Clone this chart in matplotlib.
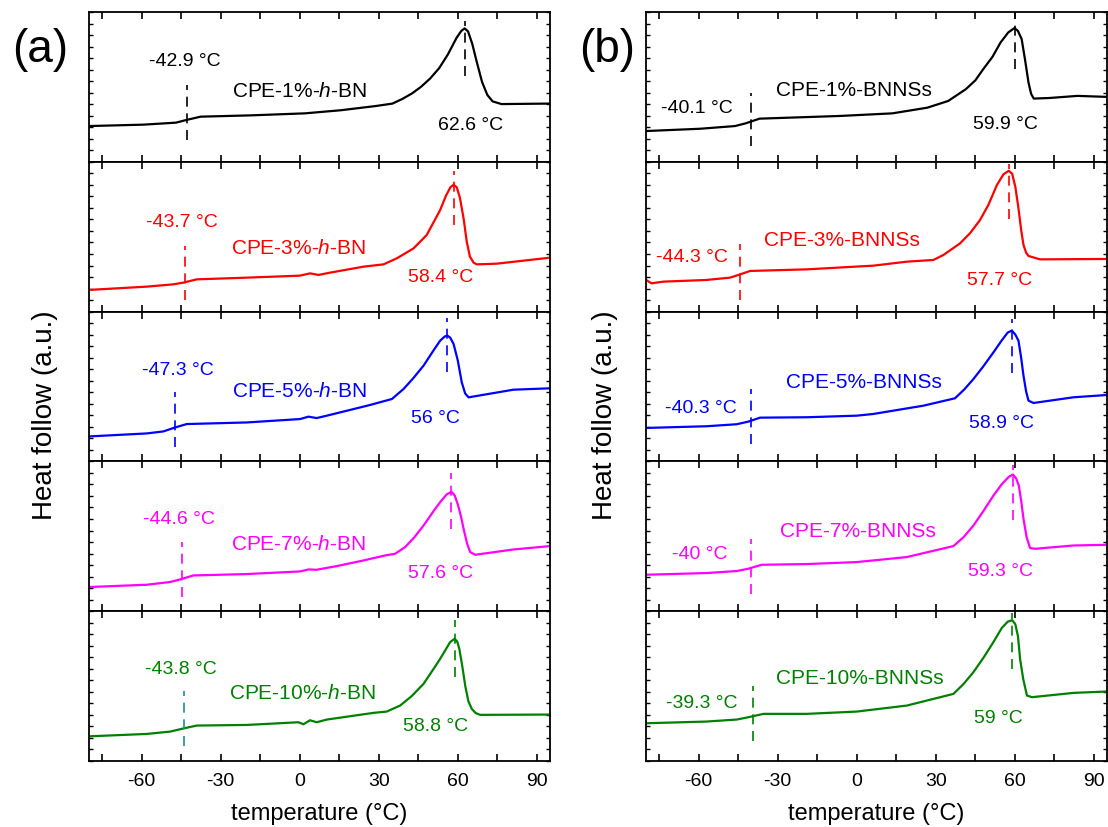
import matplotlib
matplotlib.use("Agg")
import matplotlib.pyplot as plt
from matplotlib.ticker import MultipleLocator

plt.rcParams["font.family"] = ["Liberation Sans", "DejaVu Sans"]
plt.rcParams["mathtext.fontset"] = "custom"
plt.rcParams["mathtext.rm"] = "Liberation Sans"
plt.rcParams["mathtext.it"] = "Liberation Sans:italic"
plt.rcParams["axes.unicode_minus"] = False

colors = ["#000000", "#ff0000", "#0000ff", "#ff00ff", "#008000"]

# ---- panel (a): h-BN ----
names_a = ["CPE-1%-$\\mathit{h}$-BN", "CPE-3%-$\\mathit{h}$-BN", "CPE-5%-$\\mathit{h}$-BN",
           "CPE-7%-$\\mathit{h}$-BN", "CPE-10%-$\\mathit{h}$-BN"]
tg_a = [-42.9, -43.7, -47.3, -44.6, -43.8]
tp_a = [62.6, 58.4, 56, 57.6, 58.8]

t_a1 = [-80, -59.3, -47, -43, -37.6, -18.5, 1.9, 15.5, 29, 35.2, 39, 42.7, 46, 49.5, 53, 56.3, 59.5, 61.3, 62.6,
        63.9, 65.5, 67.1, 69.2, 71.2, 73.2, 76.6, 95]
h_a1 = [35.8, 37.2, 39.2, 41.9, 45.2, 46.5, 48.5, 51.6, 55.9, 58.3, 63, 68.6, 75, 83.4, 94, 107.8, 124, 131, 133.6,
        130.5, 118, 101, 80, 67, 60.5, 57.8, 58.3]

t_a2 = [-80, -58.1, -48, -44.2, -39.1, -20.1, 0.1, 3.9, 7.1, 11.5, 24.2, 31.8, 36.8, 43.2, 48.2, 53.3,
        55.5, 57.2, 58.4, 59.6, 60.8, 62.2, 63.4, 64.6, 66, 67.2, 74.8, 95]
h_a2 = [21.7, 25, 27.3, 29, 32.3, 34, 36, 38.3, 36.7, 39, 45, 47.3, 53.3, 63.3, 76.7, 101.7,
        116, 124.5, 127, 124.5, 114, 93.3, 70, 55, 49, 47.3, 48, 54]

t_a3 = [-80, -58.1, -51.8, -47.3, -42.9, -20.1, 0.1, 3.3, 6.4, 10.3, 26.7, 35, 39.4, 43, 47, 51, 53.3,
        55, 56, 57.1, 58.4, 60, 61.5, 62.8, 64.1, 66, 81.1, 95]
h_a3 = [25, 28, 30, 34, 37.4, 39, 42.4, 44.8, 43.4, 45.8, 56.5, 62.5, 72.5, 83, 95.9, 112, 120.9,
        125, 126, 124, 117.6, 101, 79.2, 68, 64.1, 65, 71.8, 73.2]

t_a4 = [-80, -58.1, -49.3, -45.4, -40.4, -20.1, 0.1, 3.3, 6.4, 14.1, 24.2, 32.4, 36.2, 40, 43.5, 47, 51,
        53.3, 55.8, 57.6, 58.8, 60, 61.2, 62.2, 63.5, 64.7, 66.6, 81.1, 95]
h_a4 = [24.2, 26.5, 29.2, 31.8, 35.8, 37.2, 39.8, 41.8, 41.5, 45.2, 50.8, 55.8, 57.5, 64.2, 74, 85.8, 101,
        109.2, 117, 119.5, 116, 107, 95, 82.5, 68, 59.2, 56.5, 61.8, 65.2]

t_a5 = [-80, -58.1, -49.3, -43.8, -39.1, -20.1, -0.5, 1.4, 3.9, 6.4, 10.3, 28, 33, 38.1, 42.5, 47, 51,
        53.3, 57.1, 58.8, 59.8, 60.6, 61.7, 62.8, 64, 65.3, 66.8, 68.5, 95]
h_a5 = [24.7, 27.1, 29.4, 32.8, 35.5, 36.1, 38.8, 36.8, 40.8, 38.8, 41.5, 48.2, 49.5, 55.5, 65, 77.3, 93,
        102.3, 119.1, 122.4, 119.5, 112, 95, 75.6, 60, 52.2, 48, 46.2, 46.5]

# ---- panel (b): BNNSs ----
names_b = ["CPE-1%-BNNSs", "CPE-3%-BNNSs", "CPE-5%-BNNSs", "CPE-7%-BNNSs", "CPE-10%-BNNSs"]
tg_b = [-40.1, -44.3, -40.3, -40.0, -39.3]
tp_b = [59.9, 57.7, 58.9, 59.3, 59.0]

t_b1 = [-80, -59.4, -46.2, -42.2, -36.9, -6.4, 13.5, 26.8, 34.7, 41.4, 45, 48, 51.5, 54.6, 57.5, 59.9, 61.2,
        62.6, 63.9, 65.2, 66.2, 67.2, 73.2, 83.8, 95]
h_b1 = [30.8, 33.1, 35.8, 38.5, 43.2, 45.9, 48.5, 54.2, 60.9, 72.7, 81.5, 92.7, 105, 119.5, 129.5, 134, 131,
        122.9, 102, 79.4, 68, 63.3, 63.9, 66, 65]

t_b2 = [-80, -77.9, -73.4, -57, -48.1, -44.9, -40.5, -19, 6.3, 19, 29.1, 32.9, 39.2, 43, 46.8, 50, 53.2,
        55.7, 57.7, 59, 60.2, 61.4, 62.4, 63.3, 64.3, 65.2, 69.6, 95]
h_b2 = [31.7, 28.3, 30, 31.7, 34, 36.7, 40.7, 42.3, 46, 50, 51.7, 56.7, 68.3, 78.5, 91.7, 107, 126.7,
        137.5, 141, 138, 125, 103.3, 82, 66.7, 59, 55.7, 52.3, 52.7]

t_b3 = [-80, -57, -45.6, -41.2, -36.7, -19, 0, 6.3, 25.3, 37.3, 40.8, 44.3, 48, 51.9, 55, 57.3, 58.9, 60.2,
        61.4, 62.4, 63.3, 64.3, 65.2, 67.1, 82.3, 95]
h_b3 = [33.5, 35.2, 37.2, 39.8, 43.8, 44.2, 45.8, 47.5, 55.8, 63.2, 72, 82.5, 95, 109.2, 121, 129, 131, 127,
        120.8, 104, 85.8, 70, 60.8, 58.5, 64.2, 66.5]

t_b4 = [-80, -57, -45.6, -41.2, -36.1, -19, 0, 19, 36.7, 40.5, 44.3, 48, 51.9, 55, 57.7, 59.3, 60.5, 61.5,
        62.4, 63.3, 64.5, 65.8, 67.7, 82.3, 95]
h_b4 = [36.5, 38.2, 40.2, 42.5, 46.5, 47.2, 49.2, 54.2, 65.2, 74, 85.8, 100, 115.8, 127, 134.5, 136.8, 133, 126,
        111, 92.5, 74, 63.2, 62.5, 65.8, 66.5]

t_b5 = [-80, -57, -45.6, -41.2, -35.4, -19, 0, 19, 36.7, 40.5, 44.3, 48, 51.9, 55, 57.3, 59, 60.2, 61.2,
        62, 63.2, 64.6, 66.5, 82.3, 95]
h_b5 = [37.8, 39.5, 41.5, 43.8, 47.2, 47.2, 49.5, 55.5, 67.2, 77, 89, 103, 119.1, 133, 139.5, 141, 137, 125,
        102.3, 82, 65.6, 63.9, 68.2, 69.6]

curves_a = [(t_a1, h_a1), (t_a2, h_a2), (t_a3, h_a3), (t_a4, h_a4), (t_a5, h_a5)]
curves_b = [(t_b1, h_b1), (t_b2, h_b2), (t_b3, h_b3), (t_b4, h_b4), (t_b5, h_b5)]

# label positions (x, y) in each subplot: Tg label, name, Tp label
pos_a = [((-43.7, 101), (-0.2, 71), (65, 37.5)),
         ((-44.8, 90), (-0.5, 64), (53.3, 35)),
         ((-46.1, 92.5), (-0.1, 70.8), (51.4, 44)),
         ((-45.8, 93.2), (-0.5, 67.5), (53.5, 38.5)),
         ((-45.2, 92.3), (1.1, 68.9), (51.4, 35.4))]
pos_b = [((-60.8, 54.2), (-1.1, 72.7), (56.6, 38.5)),
         ((-62.7, 55), (-5.7, 71.7), (54.4, 31.7)),
         ((-59.2, 54.2), (2.8, 79.8), (55, 39.2)),
         ((-59.5, 57.5), (0.6, 80.8), (54.4, 40.8)),
         ((-58.9, 58.9), (1.3, 83.9), (53.8, 43.8))]
# dashed line extents (Tg low, Tg high, Tp low, Tp high)
dash_a = [(22, 77, 86, 141), (12, 66, 87, 141), (14, 69, 90, 144), (14, 69, 82, 138), (15, 70, 84, 141)]
dash_b = [(16, 69, 93, 150), (12, 68, 93, 148), (17, 72, 89, 143), (17, 72, 91, 146), (20, 75, 92, 148)]

fig = plt.figure(figsize=(11.08, 8.28), dpi=100)
W, H = 1108, 828
bot, top = 1 - 762 / H, 1 - 13 / H


def fmt_t(v):
    return ("%g" % v) + " \u00b0C"


def draw_panel(left, right, names, curves, tg, tp, pos, dash, tag):
    gs = fig.add_gridspec(5, 1, left=left, right=right, bottom=bot, top=top, hspace=0)
    axes = []
    for i in range(5):
        ax = fig.add_subplot(gs[i, 0])
        c = colors[i]
        t, h = curves[i]
        ax.plot(t, h, color=c, lw=1.6, solid_joinstyle="round")
        tgc = "#1a8f8f" if (tag == "(a)" and i == 4) else c
        ax.plot([tg[i], tg[i]], [dash[i][0], dash[i][1]], color=tgc, lw=1.2, ls=(0, (6, 4)))
        ax.plot([tp[i], tp[i]], [dash[i][2], dash[i][3]], color=c, lw=1.2, ls=(0, (6, 4)))
        (x1, y1), (x2, y2), (x3, y3) = pos[i]
        ax.text(x1, y1, fmt_t(tg[i]), color=c, fontsize=14, ha="center", va="center")
        ax.text(x2, y2, names[i], color=c, fontsize=15, ha="center", va="center")
        ax.text(x3, y3, fmt_t(tp[i]), color=c, fontsize=14, ha="center", va="center")
        ax.set_xlim(-80, 95)
        ax.set_ylim(0, 150)
        ax.xaxis.set_major_locator(MultipleLocator(30))
        ax.xaxis.set_minor_locator(MultipleLocator(15))
        ax.yaxis.set_major_locator(MultipleLocator(150 / 13))
        ax.tick_params(axis="x", which="both", direction="in", top=True, bottom=True,
                       length=5, width=1.2, labelsize=14, pad=8)
        ax.tick_params(axis="y", which="both", direction="in", left=True, right=True,
                       length=3, width=1.0, labelleft=False)
        for sp in ax.spines.values():
            sp.set_linewidth(1.3)
        if i < 4:
            ax.tick_params(axis="x", labelbottom=False)
        axes.append(ax)
    axes[-1].set_xlabel("temperature (\u00b0C)", fontsize=17, labelpad=9)
    return axes


ax_a = draw_panel(89 / W, 550 / W, names_a, curves_a, tg_a, tp_a, pos_a, dash_a, "(a)")
ax_b = draw_panel(646 / W, 1107 / W, names_b, curves_b, tg_b, tp_b, pos_b, dash_b, "(b)")

fig.text(45 / W, 1 - 415 / H, "Heat follow (a.u.)", rotation=90, fontsize=20, ha="center", va="center")
fig.text(605 / W, 1 - 415 / H, "Heat follow (a.u.)", rotation=90, fontsize=20, ha="center", va="center")
fig.text(40 / W, 1 - 50 / H, "(a)", fontsize=33, ha="center", va="center")
fig.text(607 / W, 1 - 50 / H, "(b)", fontsize=33, ha="center", va="center")

fig.savefig("out.png", dpi=100)
